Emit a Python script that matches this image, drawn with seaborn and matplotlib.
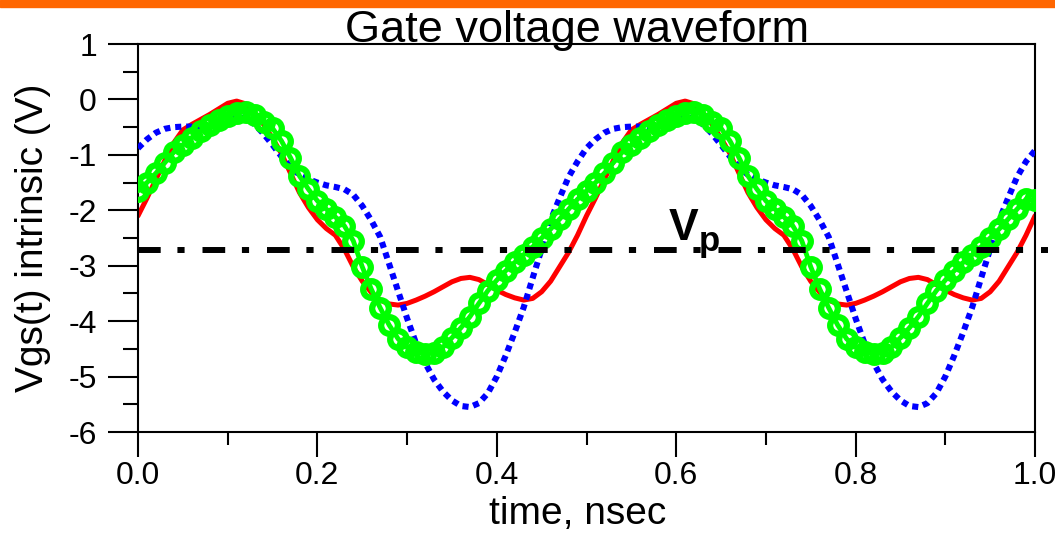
import numpy as np
import pandas as pd
import seaborn as sns
import matplotlib.pyplot as plt
from matplotlib.patches import Rectangle

# one period (0.5 ns) of each waveform, read every 0.01 ns
red_cycle = [-2.10, -1.78, -1.44, -1.10, -0.78, -0.55, -0.45, -0.36, -0.27, -0.17,
             -0.07, -0.03, -0.08, -0.25, -0.45, -0.70, -0.98, -1.33, -1.68, -1.95,
             -2.17, -2.33, -2.45, -2.70, -3.02, -3.28, -3.48, -3.62, -3.69, -3.71,
             -3.68, -3.62, -3.55, -3.47, -3.38, -3.29, -3.23, -3.21, -3.25, -3.34,
             -3.44, -3.52, -3.58, -3.62, -3.59, -3.47, -3.28, -3.02, -2.76, -2.45]
blue_cycle = [-0.88, -0.72, -0.60, -0.53, -0.50, -0.49, -0.49, -0.50, -0.48, -0.43,
              -0.37, -0.32, -0.34, -0.45, -0.62, -0.82, -1.03, -1.22, -1.36, -1.44,
              -1.50, -1.55, -1.58, -1.62, -1.72, -1.92, -2.18, -2.48, -2.97, -3.46,
              -3.95, -4.40, -4.75, -5.05, -5.27, -5.43, -5.53, -5.55, -5.48, -5.30,
              -5.00, -4.62, -4.20, -3.75, -3.22, -2.70, -2.18, -1.78, -1.40, -1.12]
green_cycle = [-1.65, -1.50, -1.33, -1.14, -0.95, -0.82, -0.69, -0.57, -0.47, -0.38,
               -0.30, -0.24, -0.22, -0.28, -0.40, -0.52, -0.75, -1.05, -1.38, -1.62,
               -1.83, -1.98, -2.12, -2.28, -2.55, -3.02, -3.42, -3.76, -4.07, -4.32,
               -4.47, -4.55, -4.60, -4.57, -4.47, -4.30, -4.12, -3.92, -3.68, -3.45,
               -3.26, -3.09, -2.94, -2.80, -2.66, -2.50, -2.34, -2.16, -1.98, -1.80]
red_end, blue_end, green_end = -2.10, -0.92, -1.82
vp_level = -2.72

time_ns = np.round(np.arange(101) * 0.01, 2)
df = pd.DataFrame({
    "time": time_ns,
    "red": red_cycle + red_cycle + [red_end],
    "blue": blue_cycle + blue_cycle + [blue_end],
    "green": green_cycle + green_cycle + [green_end],
})

sns.set_style("ticks")
plt.rcParams['font.family'] = ['Liberation Sans', 'DejaVu Sans']
plt.rcParams['axes.unicode_minus'] = False
plt.rcParams['text.color'] = 'black'
plt.rcParams['axes.labelcolor'] = 'black'

fig = plt.figure(figsize=(10.55, 5.4), dpi=100)
ax = fig.add_axes([138 / 1055, 1 - 432 / 540, 897 / 1055, 388 / 540])

# orange strip at the top
fig.patches.append(Rectangle((0, 1 - 7 / 540), 1, 7 / 540, transform=fig.transFigure,
                             color='#FF6600', zorder=0))

sns.lineplot(data=df, x="time", y="red", color='#FF0000', lw=3.6, ax=ax, zorder=2)
sns.lineplot(data=df, x="time", y="blue", color='#0000FF', lw=4.4, ax=ax, zorder=3)
ax.lines[-1].set_dashes((1, 0.8))
sns.lineplot(data=df, x="time", y="green", color='#00FF00', lw=3.5, marker='o',
             markersize=12, markerfacecolor='none', markeredgecolor='#00FF00',
             markeredgewidth=4.5, ax=ax, zorder=4)

ax.plot([0, 1.015], [vp_level, vp_level], color='black', lw=4.3, clip_on=False,
        dashes=(3.8, 2.8, 1.2, 3.0), dash_capstyle='butt', zorder=5)
ax.text(0.592, -2.54, 'V', fontsize=32, fontweight='bold', zorder=6)
ax.text(0.625, -2.74, 'p', fontsize=25, fontweight='bold', zorder=6)

ax.set_xlim(0, 1)
ax.set_ylim(-6, 1)
ax.set_xticks(np.arange(0, 1.01, 0.2))
ax.set_xticks(np.arange(0.1, 1.0, 0.2), minor=True)
ax.set_xticklabels([f"{v:.1f}" for v in np.arange(0, 1.01, 0.2)])
ax.set_yticks(range(-6, 2))
ax.set_yticks(np.arange(-5.5, 1, 1), minor=True)

ax.tick_params(axis='both', which='both', direction='out', width=1.5, colors='black',
               labelsize=23, labelcolor='black')
ax.tick_params(axis='y', which='major', length=21.6, pad=8)
ax.tick_params(axis='y', which='minor', length=10.8)
ax.tick_params(axis='x', which='major', length=18, pad=3)
ax.tick_params(axis='x', which='minor', length=9.5)
for s in ax.spines.values():
    s.set_linewidth(1.5)
    s.set_color('black')

ax.text(0.49, 1.004, "Gate voltage waveform", fontsize=32.5, ha='center', va='baseline',
        transform=ax.transAxes)
ax.set_xlabel("time, nsec", fontsize=28)
ax.set_ylabel("Vgs(t) intrinsic (V)", fontsize=28)
ax.xaxis.set_label_coords(0.49, -0.165)
ax.yaxis.set_label_coords(-0.097, 0.5)

fig.savefig("out.png", dpi=100)
